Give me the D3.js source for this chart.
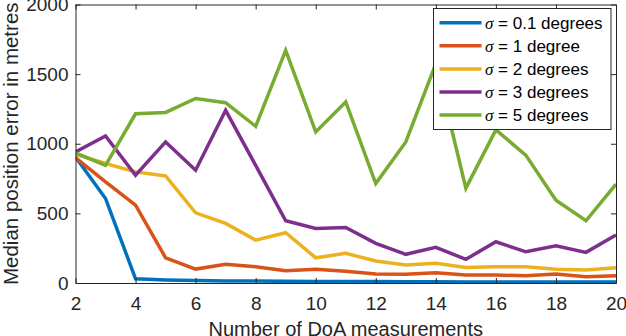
<!DOCTYPE html>
<html>
<head>
<meta charset="utf-8">
<script src="https://cdn.jsdelivr.net/npm/d3@7"></script>
<style>
  body { margin: 0; background: #fff; }
  svg { display: block; font-family: "Liberation Sans", Arial, sans-serif; }
  .axis text { fill: #262626; }
  .axis line, .axis path { stroke: #262626; }
</style>
</head>
<body>
<svg id="chart" width="626" height="336"></svg>
<script>
  // number of DoA measurements (x)
  var measurements = [2, 3, 4, 5, 6, 7, 8, 9, 10, 11, 12, 13, 14, 15, 16, 17, 18, 19, 20];

  // median position error in metres, one array per sigma
  var sigma01 = [905, 607, 30, 22, 18, 15, 14, 12, 11, 10, 10, 9, 9, 8, 8, 8, 8, 8, 8];
  var sigma1  = [900, 726, 559, 181, 100, 134, 117, 88, 98, 84, 65, 62, 74, 57, 57, 52, 65, 45, 52];
  var sigma2  = [925, 858, 798, 769, 504, 428, 308, 361, 181, 213, 158, 129, 141, 112, 117, 117, 98, 93, 110];
  var sigma3  = [941, 1056, 774, 1013, 810, 1240, 845, 447, 392, 399, 285, 206, 256, 170, 296, 224, 267, 220, 344];
  var sigma5  = [934, 845, 1215, 1225, 1325, 1295, 1125, 1670, 1085, 1300, 714, 1013, 1575, 681, 1100, 917, 595, 447, 710];

  var seriesNames = ['0.1 degrees', '1 degree', '2 degrees', '3 degrees', '5 degrees'];
  var seriesColors = ['#0072BD', '#D95319', '#EDB120', '#7E2F8E', '#77AC30'];
  var seriesValues = [sigma01, sigma1, sigma2, sigma3, sigma5];

  var xTicks = [2, 4, 6, 8, 10, 12, 14, 16, 18, 20];
  var yTicks = [0, 500, 1000, 1500, 2000];

  var margin = { top: 4.5, right: 10, bottom: 53, left: 75.5 };
  var width = 626, height = 336;

  var svg = d3.select('#chart');

  var x = d3.scaleLinear()
    .domain([2, 20])
    .range([margin.left, width - margin.right]);

  var y = d3.scaleLinear()
    .domain([0, 2000])
    .range([height - margin.bottom, margin.top]);

  var series = seriesValues.map(function (vals, i) {
    return {
      name: seriesNames[i],
      color: seriesColors[i],
      points: vals.map(function (v, j) { return [measurements[j], v]; })
    };
  });

  // lines
  var line = d3.line()
    .x(function (d) { return x(d[0]); })
    .y(function (d) { return y(d[1]); });

  var plot = svg.append('g').attr('class', 'plot');

  svg.append('clipPath').attr('id', 'clip')
    .append('rect')
      .attr('x', x.range()[0])
      .attr('y', y.range()[1])
      .attr('width', x.range()[1] - x.range()[0])
      .attr('height', y.range()[0] - y.range()[1]);

  plot.attr('clip-path', 'url(#clip)')
    .selectAll('path')
    .data(series)
    .enter()
    .append('path')
      .attr('fill', 'none')
      .attr('stroke', function (d) { return d.color; })
      .attr('stroke-width', 3.5)
      .attr('stroke-linejoin', 'miter')
      .attr('d', function (d) { return line(d.points); });

  // axes, ticks pointing inward like matlab
  var fontSize = 19;
  var fmt = d3.format('d');

  svg.append('g')
    .attr('class', 'axis')
    .attr('transform', 'translate(0,' + y.range()[0] + ')')
    .call(d3.axisBottom(x).tickValues(xTicks).tickFormat(fmt).tickSize(-5).tickSizeOuter(0).tickPadding(14))
    .call(function (g) { g.selectAll('text').attr('font-size', fontSize); });

  svg.append('g')
    .attr('class', 'axis')
    .attr('transform', 'translate(0,' + y.range()[1] + ')')
    .call(d3.axisTop(x).tickValues(xTicks).tickSize(-5).tickSizeOuter(0).tickFormat(''));

  svg.append('g')
    .attr('class', 'axis')
    .attr('transform', 'translate(' + x.range()[0] + ',0)')
    .call(d3.axisLeft(y).tickValues(yTicks).tickFormat(fmt).tickSize(-5).tickSizeOuter(0).tickPadding(7))
    .call(function (g) { g.selectAll('text').attr('font-size', fontSize); });

  svg.append('g')
    .attr('class', 'axis')
    .attr('transform', 'translate(' + x.range()[1] + ',0)')
    .call(d3.axisRight(y).tickValues(yTicks).tickSize(-5).tickSizeOuter(0).tickFormat(''));

  svg.selectAll('.axis').attr('font-family', null);
  svg.selectAll('.axis path').attr('stroke-width', 1);

  // axis titles (the reference crops the x title at the bottom edge)
  svg.append('text')
    .attr('x', (x.range()[0] + x.range()[1]) / 2)
    .attr('y', 336)
    .attr('text-anchor', 'middle')
    .attr('font-size', 20)
    .attr('fill', '#262626')
    .text('Number of DoA measurements');

  svg.append('text')
    .attr('transform', 'translate(17.5,' + (y.range()[0] + y.range()[1]) / 2 + ') rotate(-90)')
    .attr('text-anchor', 'middle')
    .attr('font-size', 20.5)
    .attr('fill', '#262626')
    .text('Median position error in metres');

  // legend
  var legend = svg.append('g')
    .attr('class', 'legend')
    .attr('transform', 'translate(433.5,8.5)');

  legend.append('rect')
    .attr('width', 177.5)
    .attr('height', 121)
    .attr('fill', '#fff')
    .attr('stroke', '#262626')
    .attr('stroke-width', 1);

  var item = legend.selectAll('g.item')
    .data(series)
    .enter()
    .append('g')
      .attr('class', 'item')
      .attr('transform', function (d, i) { return 'translate(0,' + (14.2 + i * 23.1) + ')'; });

  item.append('line')
    .attr('x1', 6).attr('x2', 48)
    .attr('stroke', function (d) { return d.color; })
    .attr('stroke-width', 3.5);

  var label = item.append('text')
    .attr('x', 51.5)
    .attr('dy', '0.35em')
    .attr('font-size', 17)
    .attr('fill', '#000');

  label.append('tspan')
    .attr('font-family', '"Liberation Serif", serif')
    .attr('font-style', 'italic')
    .text('\u03c3');
  label.append('tspan')
    .text(function (d) { return ' = ' + d.name; });
</script>
</body>
</html>
